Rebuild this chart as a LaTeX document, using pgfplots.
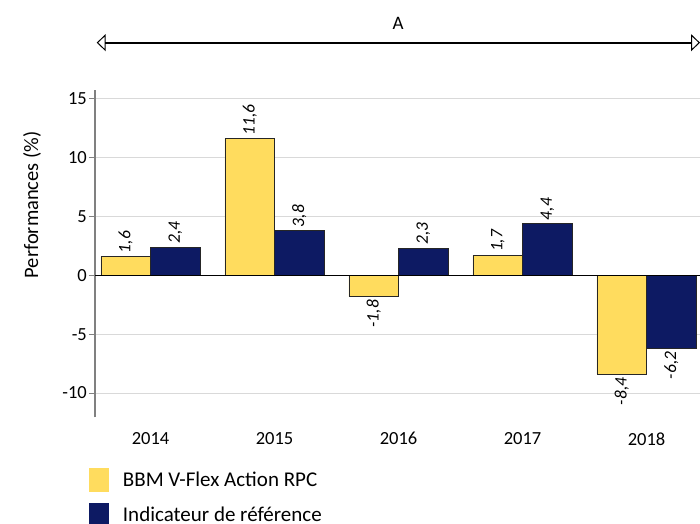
\documentclass[border=0pt]{standalone}
\usepackage{pgfplots}
\pgfplotsset{compat=1.18}
\usepackage{fontspec}
\setmainfont{Carlito}
\usetikzlibrary{arrows.meta}
\definecolor{byellow}{RGB}{255,220,94}
\definecolor{bnavy}{RGB}{13,26,99}
\definecolor{gridgray}{RGB}{217,217,217}
\definecolor{axgray}{RGB}{128,128,128}
\begin{document}
\begin{tikzpicture}
\begin{axis}[
  at={(95bp,106.7bp)}, anchor=south west,
  scale only axis, width=605bp, height=327.3bp,
  xmin=-0.4476, xmax=4.431, ymin=-12.06, ymax=15.74,
  ybar, bar width=0.4,
  xtick={0,1,2,3,4}, xticklabels={2014,2015,2016,2017,2018},
  ytick={-10,-5,0,5,10,15},
  ymajorgrids, major grid style={gridgray, line width=1bp},
  separate axis lines,
  axis x line*=bottom, axis y line*=left,
  x axis line style={draw=none},
  y axis line style={axgray, line width=1.5bp, -},
  xtick style={draw=none},
  ytick style={axgray, line width=1bp},
  tick align=outside, major tick length=6bp,
  /pgf/number format/assume math mode=true,
  tick label style={font=\fontsize{18.5bp}{20bp}\selectfont},
  yticklabel style={inner sep=0pt, xshift=-2bp},
  xticklabel style={inner sep=0pt, anchor=north, yshift=-9bp},
  ylabel={Performances (\%)},
  ylabel style={at={(axis description cs:-0.104,0.649)}, anchor=center, font=\fontsize{20.5bp}{22bp}\selectfont},
  clip=false,
  point meta=explicit symbolic,
  nodes near coords={\pgfplotspointmeta},
  visualization depends on={y \as \rawy},
  every node near coord/.append style={rotate=90, font=\fontsize{17.5bp}{19bp}\selectfont\itshape, inner sep=3bp, text=black},
  every node near coord/.append code={\ifdim\rawy pt<0pt \pgfkeysalso{anchor=east}\else\pgfkeysalso{anchor=west}\fi},
  legend style={at={(axis description cs:-0.011,-0.155)}, anchor=north west, draw=none, fill=none, inner sep=0pt, row sep=11bp, column sep=13.7bp, font=\fontsize{21bp}{24bp}\selectfont, nodes={inner sep=0pt}},
  legend cell align=left,
  legend image code/.code={\fill[#1, draw=none] (0bp,-12bp) rectangle (20.7bp,12bp);},
]
\addplot[fill=byellow, draw=black!85, line width=0.8bp, bar shift=-0.2] coordinates {
  (0,1.6) [1,6]
  (1,11.6) [11,6]
  (2,-1.8) [-1,8]
  (3,1.7) [1,7]
  (4,-8.4) [-8,4]
};
\addlegendentry{BBM V-Flex Action RPC}
\addplot[fill=bnavy, draw=black!85, line width=0.8bp, bar shift=0.2] coordinates {
  (0,2.4) [2,4]
  (1,3.8) [3,8]
  (2,2.3) [2,3]
  (3,4.4) [4,4]
  (4,-6.2) [-6,2]
};
\addlegendentry{Indicateur de référence}
\draw[black, line width=1.2bp] (axis cs:-0.4476,0) -- (axis cs:4.431,0);
\draw[line width=2bp, {Triangle[open, length=9bp, width=17bp, line width=1bp]}-{Triangle[open, length=9bp, width=17bp, line width=1bp]}] (axis cs:-0.434,19.76) -- (axis cs:4.431,19.76);
\node[font=\fontsize{19bp}{20bp}\selectfont] at (axis cs:1.996,21.41) {A};
\end{axis}
\pgfresetboundingbox
\path[use as bounding box] (0,0) rectangle (700bp,524bp);
\end{tikzpicture}
\end{document}
